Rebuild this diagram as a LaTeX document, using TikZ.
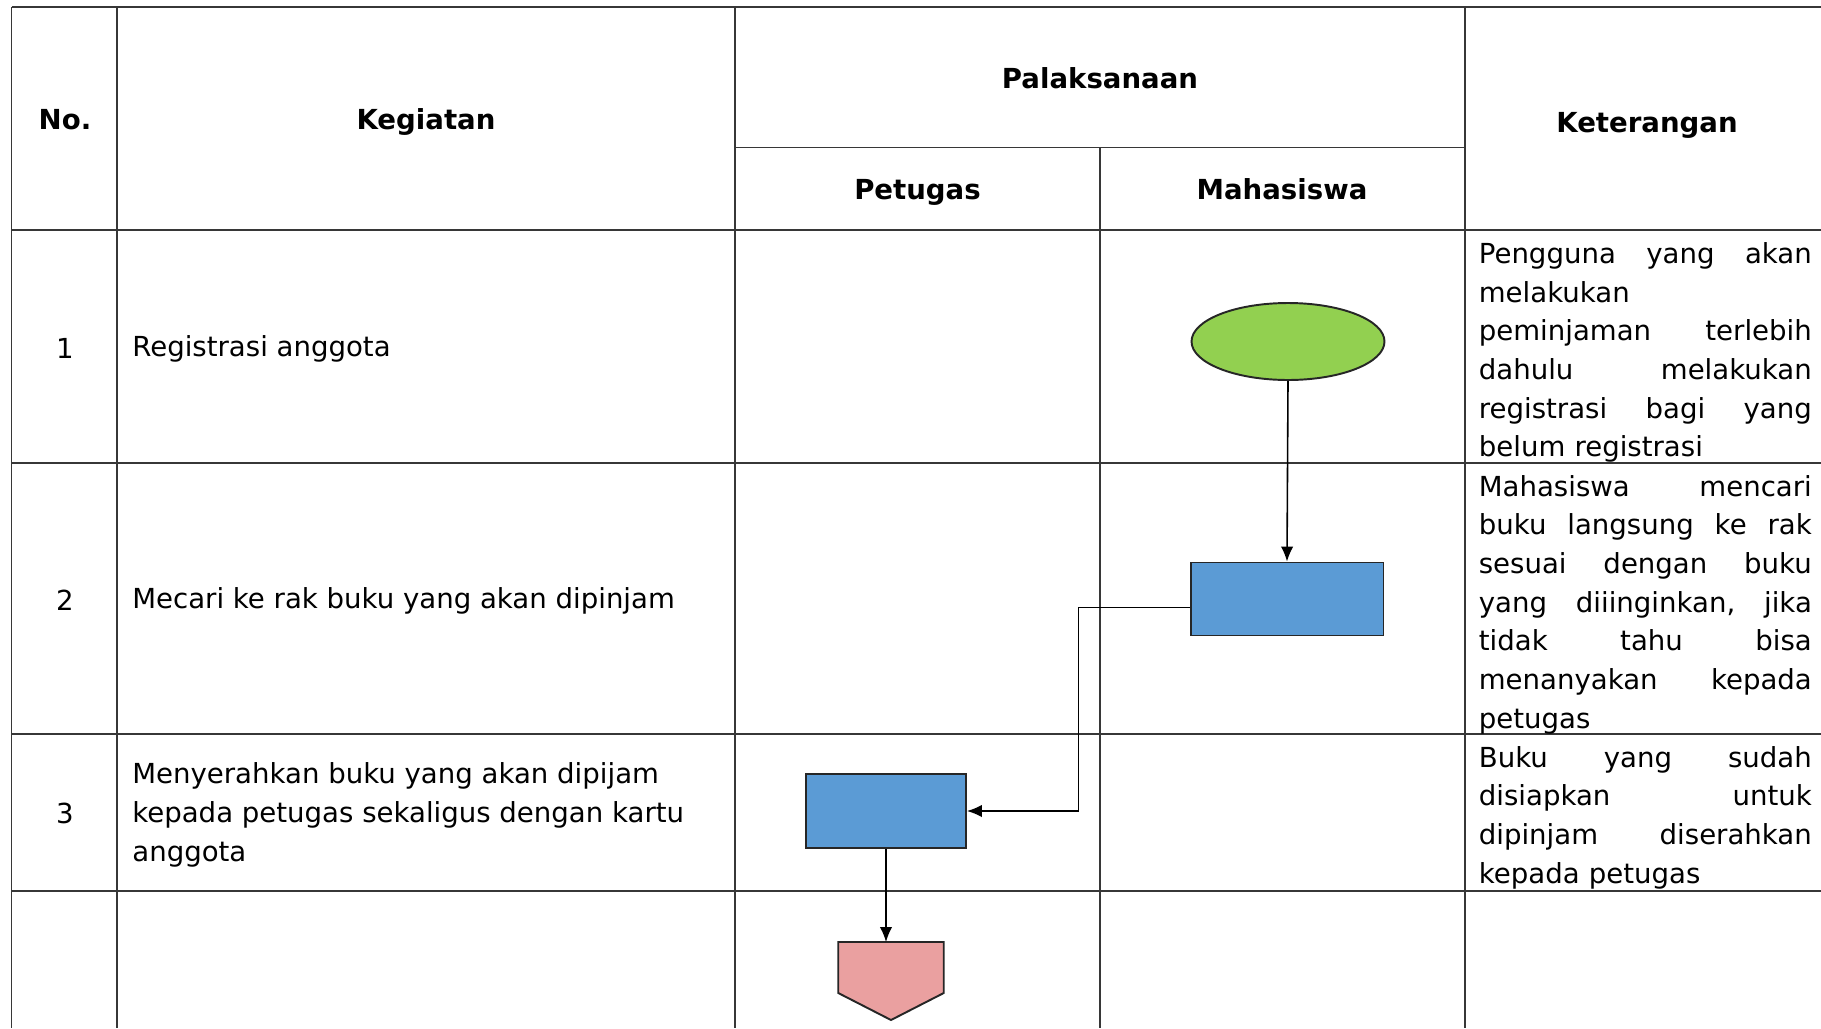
\documentclass[tikz,border=0pt]{standalone}
\usepackage{fontspec}
\setmainfont{DejaVu Sans}
\usetikzlibrary{shapes.geometric,arrows.meta}
\definecolor{startgreen}{RGB}{146,208,80}
\definecolor{procblue}{RGB}{91,155,213}
\definecolor{endpink}{RGB}{234,160,160}
\definecolor{gridgray}{RGB}{55,55,55}
\begin{document}
\begin{tikzpicture}[x=0.02cm,y=-0.02cm,>={Latex[length=0.3cm,width=0.25cm]},
    grid/.style={gridgray,line width=0.9pt},
    head/.style={font=\fontsize{15.7}{22}\selectfont\bfseries,text height=0.73em,text depth=0pt},
    txt/.style={font=\fontsize{15.7}{22}\selectfont,align=left},
    ket/.style={txt,text width=6.66cm,inner sep=0pt,anchor=west},
    box/.style={draw=black!85,line width=1.1pt,inner sep=0pt},
    flow/.style={->,line width=0.9pt}]
\useasboundingbox (0,0) rectangle (1821,1028);
% table lines
\draw[grid] (11.6,7)--(1821,7);
\draw[grid] (735,147.5)--(1465,147.5);
\foreach \y in {230,463,734,891}
{
    \draw[grid] (11.6,\y)--(1821,\y);
}
\foreach \x in {11.6,117,735,1465}
{
    \draw[grid] (\x,7)--(\x,1028);
}
\draw[grid] (1100,147.5)--(1100,1028);
% header
\node[head] (no) at (65,123){No.};
\node[head] (kegiatan) at (426,123){Kegiatan};
\node[head] (pelaksana) at (1100,82){Palaksanaan};
\node[head] (petugas) at (917.5,193){Petugas};
\node[head] (mhs) at (1282,193){Mahasiswa};
\node[head] (ket) at (1647,126){Keterangan};
% rows
\foreach \n/\y in {1/348,2/600,3/813}
{
    \node[txt] (no\n) at (65,\y){\n};
}
\node[txt,anchor=west,inner sep=0pt] (keg1) at (132,348.5){Registrasi anggota};
\node[txt,anchor=west,inner sep=0pt] (keg2) at (132,600.5){Mecari ke rak buku yang akan dipinjam};
\node[txt,anchor=west,inner sep=0pt] (keg3) at (132,815){Menyerahkan buku yang akan dipijam\\kepada petugas sekaligus dengan kartu\\anggota};
\node[ket] (ket1) at (1478.5,352.5){Pengguna\hfill yang\hfill akan\\melakukan\\peminjaman\hfill terlebih\\dahulu\hfill melakukan\\registrasi\hfill bagi\hfill yang\\belum registrasi};
\node[ket] (ket2) at (1478.5,604.5){Mahasiswa\hfill mencari\\buku\hfill langsung\hfill ke\hfill rak\\sesuai\hfill dengan\hfill buku\\yang\hfill diiinginkan,\hfill jika\\tidak\hfill tahu\hfill bisa\\menanyakan\hfill kepada\\petugas};
\node[ket] (ket3) at (1478.5,817.5){Buku\hfill yang\hfill sudah\\disiapkan\hfill untuk\\dipinjam\hfill diserahkan\\kepada petugas};
% flow
\node[box,ellipse,fill=startgreen,minimum width=3.86cm,minimum height=1.54cm] (mulai) at (1288,341.5){};
\node[box,fill=procblue,minimum width=3.86cm,minimum height=1.46cm] (cari) at (1287,599){};
\node[box,fill=procblue,minimum width=3.2cm,minimum height=1.49cm] (serah) at (886,811){};
\coordinate (lanjut) at (891,942);
\filldraw[box,fill=endpink] (lanjut)--++(52.75,0)--++(0,51)--++(-52.75,27)--++(-52.75,-27)--++(0,-51)--cycle;
\draw[flow] (mulai.south)--(cari.north);
\draw[flow] ([yshift=-0.17cm]cari.west)--++(-111,0)|-(serah.east);
\draw[flow] (serah.south)--(serah.south|-lanjut);
\end{tikzpicture}
\end{document}
